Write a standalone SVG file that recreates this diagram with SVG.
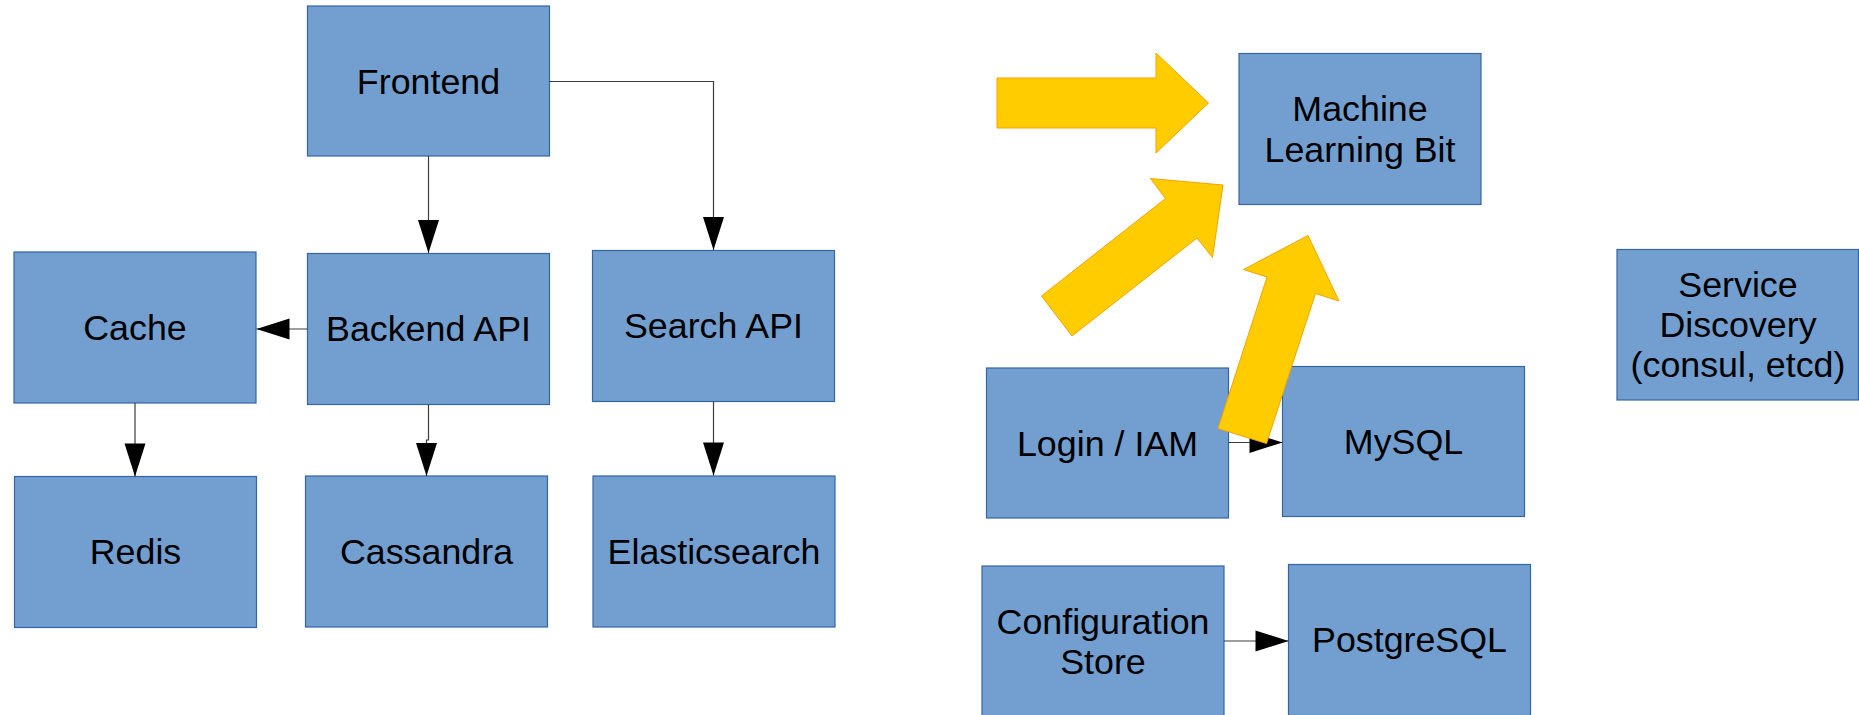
<svg xmlns="http://www.w3.org/2000/svg" width="1859" height="715" viewBox="0 0 1859 715">
  <style>
    .node rect { fill: #729fcf; stroke: #3465a4; stroke-width: 1.2; }
    .node text { font-family: "Liberation Sans", Arial, sans-serif; font-size: 35.8px; fill: #000; text-anchor: middle; }
    .conn path { fill: none; stroke: #3c3c3c; stroke-width: 1.2; }
    .blk polygon { fill: #ffcc00; stroke: #f5a300; stroke-width: 1; stroke-linejoin: miter; }
  </style>
  <defs>
    <marker id="ah" markerUnits="userSpaceOnUse" markerWidth="34" markerHeight="22" refX="33" refY="11" orient="auto" overflow="visible">
      <path d="M0,0.5 L33,11 L0,21.5 Z" fill="#000"/>
    </marker>
  </defs>

  <g id="frontend" class="node">
    <rect x="307.5" y="6" width="242" height="150"/>
    <text x="428.5" y="93.5">Frontend</text>
  </g>
  <g id="cache" class="node">
    <rect x="14" y="252" width="242" height="151"/>
    <text x="135" y="339.5">Cache</text>
  </g>
  <g id="backend-api" class="node">
    <rect x="307.5" y="253.5" width="242" height="151"/>
    <text x="428.5" y="340.5">Backend API</text>
  </g>
  <g id="search-api" class="node">
    <rect x="592.5" y="250.5" width="242" height="151"/>
    <text x="713.5" y="337.5">Search API</text>
  </g>
  <g id="redis" class="node">
    <rect x="14.5" y="476.5" width="242" height="151"/>
    <text x="135.5" y="564">Redis</text>
  </g>
  <g id="cassandra" class="node">
    <rect x="305.5" y="476" width="242" height="151"/>
    <text x="426.5" y="563.5">Cassandra</text>
  </g>
  <g id="elasticsearch" class="node">
    <rect x="593" y="476" width="242" height="151"/>
    <text x="714" y="563.5">Elasticsearch</text>
  </g>
  <g id="machine-learning-bit" class="node">
    <rect x="1239" y="53.5" width="242" height="151"/>
    <text x="1360" y="121">Machine</text>
    <text x="1360" y="161.5">Learning Bit</text>
  </g>
  <g id="login-iam" class="node">
    <rect x="986.5" y="368" width="242" height="150"/>
    <text x="1107.5" y="455.5">Login / IAM</text>
  </g>
  <g id="mysql" class="node">
    <rect x="1282.5" y="366.5" width="242" height="150"/>
    <text x="1403.5" y="453.5">MySQL</text>
  </g>
  <g id="configuration-store" class="node">
    <rect x="982" y="566" width="242" height="151"/>
    <text x="1103" y="633.5">Configuration</text>
    <text x="1103" y="674">Store</text>
  </g>
  <g id="postgresql" class="node">
    <rect x="1288.5" y="564.5" width="242" height="151"/>
    <text x="1409.5" y="652">PostgreSQL</text>
  </g>
  <g id="service-discovery" class="node">
    <rect x="1617" y="249.5" width="241.5" height="150.5"/>
    <text x="1738" y="296.5">Service</text>
    <text x="1738" y="337">Discovery</text>
    <text x="1738" y="377">(consul, etcd)</text>
  </g>

  <g id="connectors" class="conn">
    <path d="M428.5,156 V253" marker-end="url(#ah)"/>
    <path d="M549.5,81.5 H713.5 V250" marker-end="url(#ah)"/>
    <path d="M307.5,329 H256.5" marker-end="url(#ah)"/>
    <path d="M135,403 V476.5" marker-end="url(#ah)"/>
    <path d="M428.5,404.5 V440 H426.5 V476" marker-end="url(#ah)"/>
    <path d="M713.5,401.5 V475.5" marker-end="url(#ah)"/>
    <path d="M1228.5,442.5 H1282.5" marker-end="url(#ah)"/>
    <path d="M1224,641 H1288.5" marker-end="url(#ah)"/>
  </g>

  <g id="block-arrows" class="blk">
    <polygon points="997,78 1156,78 1156,53 1208.5,103 1156,153 1156,128 997,128"/>
    <polygon points="1041.5,296 1165.5,198.5 1150.5,178.5 1223,185 1212.5,257.5 1197,238 1072,336"/>
    <polygon points="1218,428.5 1267,277 1243.5,269.5 1308,235.5 1339,301 1315.5,293.5 1266.5,443.5"/>
  </g>
</svg>
